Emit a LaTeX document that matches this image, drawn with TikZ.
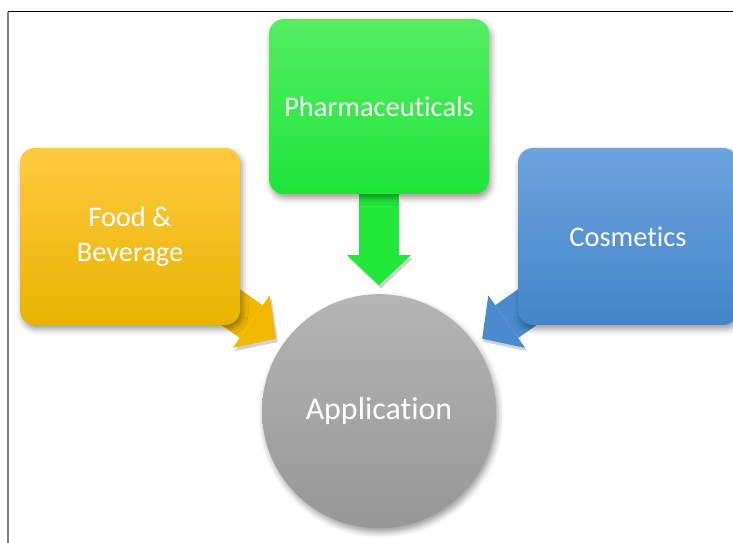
\documentclass[tikz,border=0pt]{standalone}
\usepackage{fontspec}
\setmainfont{Carlito}[Ligatures=NoCommon]
\usepackage{tikz}
\usetikzlibrary{arrows.meta, backgrounds, shadows.blur}
\definecolor{foodtop}{HTML}{FFC940}
\definecolor{foodbottom}{HTML}{E8B400}
\definecolor{foodarrow}{HTML}{F0B900}
\definecolor{pharmatop}{HTML}{55EE63}
\definecolor{pharmabottom}{HTML}{1EE53A}
\definecolor{pharmaarrow}{HTML}{22E83C}
\definecolor{cosmtop}{HTML}{6CA3DC}
\definecolor{cosmbottom}{HTML}{4385C9}
\definecolor{cosmarrow}{HTML}{4A8BD0}
\definecolor{apptop}{HTML}{B5B5B5}
\definecolor{appbottom}{HTML}{979797}

\begin{document}
\begin{tikzpicture}[
  softshadow/.style={blur shadow={shadow xshift=0.05cm, shadow yshift=-0.1cm, shadow blur radius=0.15cm, shadow opacity=40}},
  catbox/.style={rounded corners=0.375cm, minimum width=5.5cm, minimum height=4.425cm, align=center, text=white, font=\fontsize{20.2}{24.5}\selectfont, softshadow},
  fillfood/.style={top color=foodtop, bottom color=foodbottom},
  fillpharma/.style={top color=pharmatop, bottom color=pharmabottom},
  fillcosm/.style={top color=cosmtop, bottom color=cosmbottom},
  hub/.style={circle, minimum size=5.85cm, top color=apptop, bottom color=appbottom, text=white, font=\fontsize{22.7}{27}\selectfont, softshadow},
  flow/.style={line width=1cm, -{Triangle[width=1.6cm, length=0.75cm, line width=0pt]}, shorten >=3.15cm,
    preaction={draw=black, opacity=0.18, transform canvas={shift={(0.05,-0.08)}}}}
]
\useasboundingbox (0,0) rectangle (18.325,-13.575);

% frame
\draw[black, line width=0.6pt] (0.2,-0.29) -- (18.325,-0.29);
\draw[gray, line width=1.4pt] (0.2,-0.29) -- (0.2,-13.575);

\node[hub] (app) at (9.475,-10.28) {Application};
\node[catbox, fillfood] (food) at (3.25,-5.9125) {Food \&\\Beverage};
\node[catbox, fillpharma, minimum height=4.375cm] (pharma) at (9.475,-2.6625) {Pharmaceuticals};
\node[catbox, fillcosm] (cosm) at (15.7,-5.9125) {Cosmetics};

% arrows behind the boxes
\begin{scope}[on background layer]
\draw[flow, foodarrow] (food.center) -- (app.center);
\draw[flow, pharmaarrow] (pharma.center) -- (app.center);
\draw[flow, cosmarrow] (cosm.center) -- (app.center);
\end{scope}
\end{tikzpicture}
\end{document}
